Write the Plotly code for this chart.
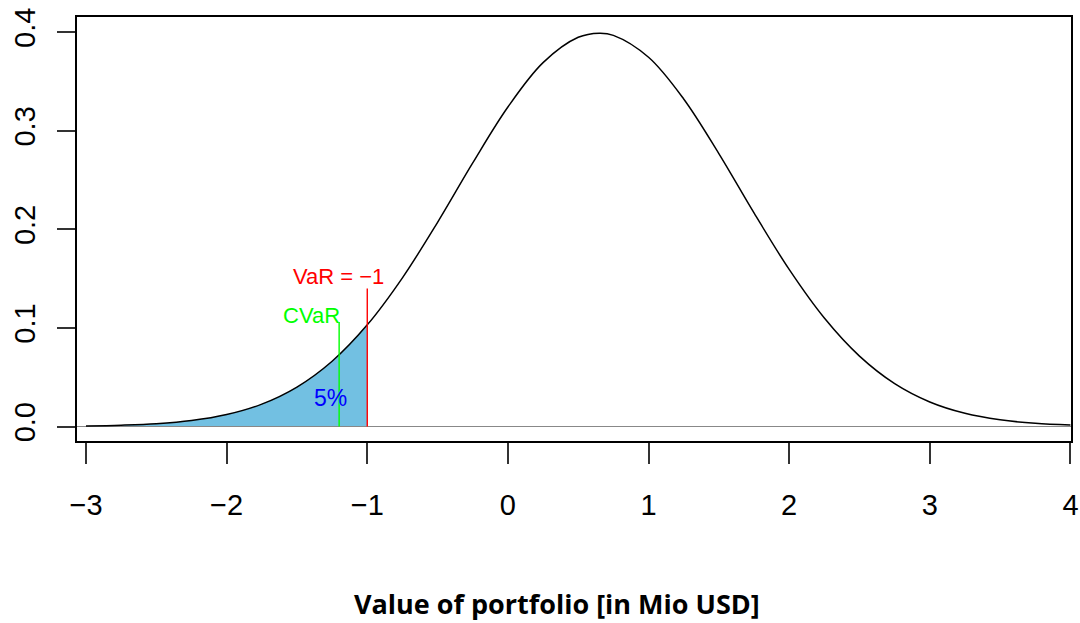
import plotly.graph_objects as go

# Density of portfolio value
x_vals = [-3.0, -2.75, -2.5, -2.25, -2.0, -1.75, -1.5, -1.25, -1.0, -0.75, -0.5, -0.25,
          0.0, 0.25, 0.5, 0.65, 0.75, 1.0, 1.25, 1.5, 1.75, 2.0, 2.25, 2.5, 2.75, 3.0,
          3.25, 3.5, 3.75, 4.0]
density = [0.0005, 0.0013, 0.0028, 0.0060, 0.0121, 0.0227, 0.0400, 0.0662, 0.1031, 0.1508,
           0.2071, 0.2673, 0.3240, 0.3690, 0.3947, 0.3989, 0.3967, 0.3745, 0.3322, 0.2768,
           0.2166, 0.1593, 0.1100, 0.0714, 0.0435, 0.0249, 0.0134, 0.0068, 0.0032, 0.0014]

var_level = -1.0
cvar_level = -1.2
var_line_top = 0.14
cvar_line_top = 0.106
x_ticks = [-3, -2, -1, 0, 1, 2, 3, 4]
x_tick_labels = ["\u22123", "\u22122", "\u22121", "0", "1", "2", "3", "4"]
y_ticks = [0.0, 0.1, 0.2, 0.3, 0.4]
y_tick_labels = ["0.0", "0.1", "0.2", "0.3", "0.4"]

tail_x = [x for x in x_vals if x <= var_level]
tail_y = [d for x, d in zip(x_vals, density) if x <= var_level]

FONT = "Liberation Sans, Arial, Helvetica, sans-serif"

fig = go.Figure()

# shaded 5% tail
fig.add_trace(go.Scatter(x=tail_x, y=tail_y, mode="lines", line=dict(width=0, shape="spline"),
                         fill="tozeroy", fillcolor="#72C0E2", hoverinfo="skip", showlegend=False))

# baseline
fig.add_trace(go.Scatter(x=[-3.2, 4.2], y=[0, 0], mode="lines",
                         line=dict(color="#888888", width=1.2), showlegend=False))

# density curve
fig.add_trace(go.Scatter(x=x_vals, y=density, mode="lines",
                         line=dict(color="black", width=1.5, shape="spline"), showlegend=False))

# VaR and CVaR lines
fig.add_trace(go.Scatter(x=[var_level, var_level], y=[0, var_line_top], mode="lines",
                         line=dict(color="#FF0000", width=1.4), showlegend=False))
fig.add_trace(go.Scatter(x=[cvar_level, cvar_level], y=[0, cvar_line_top], mode="lines",
                         line=dict(color="#00FF00", width=1.4), showlegend=False))

fig.add_annotation(x=-1.204, y=0.1526, text="VaR = \u22121", showarrow=False,
                   font=dict(family=FONT, size=22, color="#FF0000"), xanchor="center", yanchor="middle")
fig.add_annotation(x=-1.396, y=0.113, text="CVaR", showarrow=False,
                   font=dict(family=FONT, size=22, color="#00FF00"), xanchor="center", yanchor="middle")
fig.add_annotation(x=-1.265, y=0.029, text="5%", showarrow=False,
                   font=dict(family=FONT, size=23, color="#0000FF"), xanchor="center", yanchor="middle")

# x-axis title
fig.add_annotation(xref="paper", yref="paper", x=0.4834, y=-0.384,
                   text="<b>Value of portfolio [in Mio USD]</b>", showarrow=False,
                   font=dict(family="Open Sans, sans-serif", size=27, color="black"),
                   xanchor="center", yanchor="middle")

fig.update_layout(
    width=1080, height=623,
    margin=dict(l=77, r=9, t=17, b=182, autoexpand=False),
    paper_bgcolor="white", plot_bgcolor="white",
    showlegend=False,
)
fig.update_xaxes(range=[-3.064, 4.004], tickvals=x_ticks, ticktext=x_tick_labels,
                 showline=True, mirror=True, linecolor="black", linewidth=1.5,
                 ticks="outside", ticklen=21, tickwidth=1.5, tickcolor="#333333",
                 showgrid=False, zeroline=False, ticklabelstandoff=16, automargin=False,
                 ticklabeloverflow="allow",
                 tickfont=dict(family=FONT, size=29, color="black"))
fig.update_yaxes(range=[-0.0147, 0.4153], tickvals=y_ticks, ticktext=y_tick_labels,
                 showline=True, mirror=True, linecolor="black", linewidth=1.5,
                 ticks="outside", ticklen=18, tickwidth=1.5, tickcolor="#333333",
                 showgrid=False, zeroline=False, tickangle=-90, ticklabelstandoff=11,
                 automargin=False, ticklabeloverflow="allow",
                 tickfont=dict(family=FONT, size=29, color="black"))

# remove the page's default 8px body margin so the figure fills the window exactly
fig.write_html("out.html", config={"displayModeBar": False},
               post_script="document.body.style.margin='0';document.body.style.overflow='hidden';")
